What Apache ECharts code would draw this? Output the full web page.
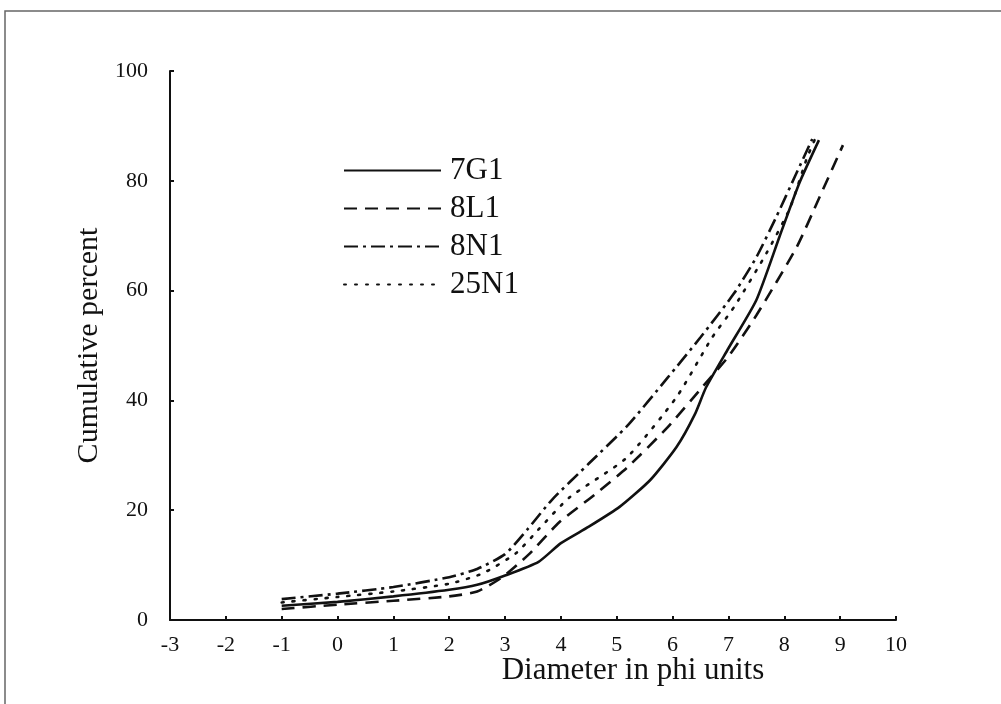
<!DOCTYPE html>
<html>
<head>
<meta charset="utf-8">
<title>Cumulative percent vs diameter</title>
<script src="https://cdn.jsdelivr.net/npm/echarts@6/dist/echarts.min.js"></script>
<style>
  html, body { margin: 0; padding: 0; background: #fff; }
  #chart { width: 1001px; height: 704px; }
</style>
</head>
<body>
<div id="chart"></div>
<script>
// values (phi, cumulative %)
const xTicks = [-3, -2, -1, 0, 1, 2, 3, 4, 5, 6, 7, 8, 9, 10];
const yTicks = [0, 20, 40, 60, 80, 100];

const s7G1 = [
  [-1, 2.6], [0, 3.3], [1, 4.3], [2, 5.5], [2.5, 6.4], [3, 8.1],
  [3.6, 10.6], [4, 14], [4.5, 17], [5.05, 20.6], [5.6, 25.5], [6.07, 31.5],
  [6.4, 37.5], [6.6, 42.4], [7, 49.5], [7.5, 58.3], [7.92, 70], [8.27, 79.6], [8.62, 87.4]
];
const s8L1 = [
  [-1, 2.0], [0, 2.8], [1, 3.5], [2, 4.3], [2.5, 5.2], [2.95, 7.8],
  [3.43, 12], [3.97, 17.8], [4.6, 22.8], [5.2, 27.9], [5.9, 35], [6.53, 42.4],
  [7, 48], [7.5, 55.5], [8.22, 67.9], [8.63, 77], [9.05, 86.5]
];
const s8N1 = [
  [-1, 3.8], [0, 4.8], [1, 6], [2, 7.8], [2.5, 9.3], [3, 12],
  [3.4, 16.5], [3.84, 21.9], [4.5, 28.5], [5.2, 35.5], [5.9, 44],
  [6.5, 51.5], [7.1, 59.5], [7.5, 66.1], [7.86, 73.5], [8.2, 81], [8.5, 87.6]
];
const s25N1 = [
  [-1, 3.2], [0, 4.2], [1, 5.2], [2, 6.6], [2.6, 8.5], [3.2, 12.2],
  [3.6, 16.5], [4.15, 22.3], [5.17, 29.5], [6.07, 40.6], [6.71, 51.5], [7.1, 57],
  [7.68, 66.8], [8.1, 75], [8.4, 84], [8.55, 87.6]
];

const seriesNames = ["7G1", "8L1", "8N1", "25N1"];
const seriesData = [s7G1, s8L1, s8N1, s25N1];
const dashTypes = ["solid", [13, 8], [14, 5, 3, 5], [2, 9]];

const serif = "'Liberation Serif', 'DejaVu Serif', serif";
const ink = "#111";

const chart = echarts.init(document.getElementById("chart"), null, { renderer: "canvas" });

chart.setOption({
  backgroundColor: "#fff",
  animation: false,
  graphic: [{
    type: "rect",
    shape: { x: 5, y: 11, width: 1200, height: 900 },
    style: { fill: "none", stroke: "#666", lineWidth: 1.5 },
    silent: true
  }],
  grid: { left: 170, right: 105, top: 71, bottom: 84 },
  legend: {
    orient: "vertical",
    left: 343,
    top: 155,
    padding: 0,
    itemWidth: 97,
    itemHeight: 14,
    itemGap: 7,
    data: seriesNames,
    itemStyle: { opacity: 0 },
    textStyle: { fontFamily: serif, fontSize: 31, color: ink, padding: [0, 0, 0, 4] }
  },
  xAxis: {
    type: "value",
    min: xTicks[0],
    max: xTicks[xTicks.length - 1],
    interval: 1,
    name: "Diameter in phi units",
    nameLocation: "middle",
    nameGap: 35,
    nameMoveOverlap: false,
    nameTextStyle: { fontFamily: serif, fontSize: 31, color: ink, padding: [0, 0, 0, 200] },
    axisLine: { onZero: false, lineStyle: { color: ink, width: 2 } },
    axisTick: { inside: true, length: 4, lineStyle: { color: ink, width: 2 } },
    axisLabel: { fontFamily: serif, fontSize: 22, color: ink, margin: 14 },
    splitLine: { show: false }
  },
  yAxis: {
    type: "value",
    min: yTicks[0],
    max: yTicks[yTicks.length - 1],
    interval: 20,
    name: "Cumulative percent",
    nameLocation: "middle",
    nameGap: 66,
    nameMoveOverlap: false,
    nameTextStyle: { fontFamily: serif, fontSize: 30, color: ink },
    axisLine: { onZero: false, lineStyle: { color: ink, width: 2 } },
    axisTick: { inside: true, length: 4, lineStyle: { color: ink, width: 2 } },
    axisLabel: { fontFamily: serif, fontSize: 22, color: ink, margin: 22 },
    splitLine: { show: false }
  },
  series: seriesNames.map((name, i) => ({
    name,
    type: "line",
    data: seriesData[i],
    symbol: "none",
    smooth: 0.2,
    color: ink,
    lineStyle: { color: ink, width: 2.6, type: dashTypes[i], cap: i === 3 ? "round" : "butt" }
  }))
});
</script>
</body>
</html>
